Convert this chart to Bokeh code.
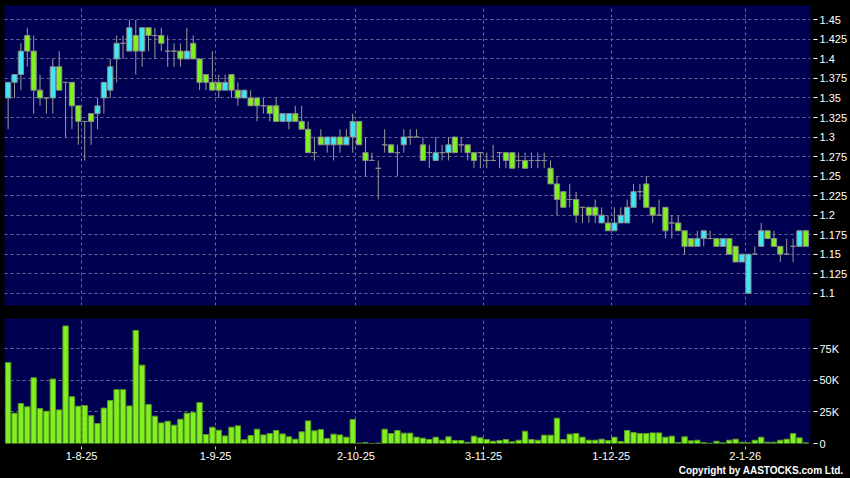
import pandas as pd
from bokeh.plotting import figure
from bokeh.layouts import column
from bokeh.models import FixedTicker, Title, ColumnDataSource
from bokeh.embed import file_html
from bokeh.resources import INLINE

# ---------------- data ----------------
holidays = ["2025-10-01", "2025-10-07", "2025-10-29", "2025-12-25", "2025-12-26", "2026-01-01"]
dates = [d for d in pd.bdate_range("2025-07-16", "2026-01-15") if d.strftime("%Y-%m-%d") not in holidays]

opens = [1.35, 1.37, 1.38, 1.43, 1.41, 1.36, 1.35, 1.35, 1.39, 1.37,
         1.37, 1.34, 1.32, 1.33, 1.33, 1.35, 1.36, 1.40, 1.42, 1.41,
         1.43, 1.41, 1.44, 1.43, 1.43, 1.41, 1.41, 1.41, 1.40, 1.42,
         1.40, 1.38, 1.37, 1.37, 1.36, 1.38, 1.36, 1.35, 1.35, 1.35,
         1.34, 1.34, 1.34, 1.32, 1.32, 1.33, 1.32, 1.31, 1.28, 1.30,
         1.29, 1.29, 1.30, 1.29, 1.30, 1.32, 1.28, 1.27, 1.26, 1.29,
         1.29, 1.28, 1.29, 1.30, 1.30, 1.29, 1.28, 1.27, 1.28, 1.28,
         1.30, 1.29, 1.29, 1.28, 1.28, 1.27, 1.27, 1.28, 1.28, 1.28,
         1.27, 1.27, 1.27, 1.27, 1.27, 1.26, 1.24, 1.23, 1.22, 1.22,
         1.21, 1.21, 1.21, 1.19, 1.19, 1.18, 1.19, 1.19, 1.21, 1.23,
         1.24, 1.21, 1.20, 1.21, 1.19, 1.19, 1.18, 1.17, 1.16, 1.17,
         1.17, 1.17, 1.16, 1.17, 1.16, 1.14, 1.10, 1.15, 1.16, 1.18,
         1.17, 1.16, 1.15, 1.16, 1.16, 1.18]
highs = [1.37, 1.38, 1.42, 1.44, 1.43, 1.38, 1.35, 1.40, 1.41, 1.37,
         1.37, 1.34, 1.32, 1.33, 1.35, 1.37, 1.40, 1.43, 1.43, 1.45,
         1.45, 1.44, 1.44, 1.44, 1.44, 1.43, 1.42, 1.42, 1.44, 1.43,
         1.40, 1.38, 1.41, 1.38, 1.38, 1.38, 1.37, 1.36, 1.36, 1.35,
         1.35, 1.34, 1.35, 1.33, 1.33, 1.34, 1.34, 1.32, 1.30, 1.31,
         1.30, 1.30, 1.31, 1.31, 1.33, 1.32, 1.30, 1.28, 1.27, 1.31,
         1.29, 1.29, 1.31, 1.31, 1.31, 1.30, 1.29, 1.30, 1.29, 1.30,
         1.30, 1.30, 1.29, 1.28, 1.28, 1.28, 1.29, 1.28, 1.28, 1.28,
         1.28, 1.28, 1.28, 1.28, 1.28, 1.27, 1.25, 1.23, 1.24, 1.23,
         1.21, 1.21, 1.22, 1.21, 1.20, 1.21, 1.21, 1.22, 1.24, 1.24,
         1.25, 1.21, 1.22, 1.21, 1.20, 1.20, 1.18, 1.17, 1.18, 1.18,
         1.18, 1.17, 1.17, 1.17, 1.16, 1.15, 1.15, 1.16, 1.19, 1.18,
         1.18, 1.16, 1.17, 1.17, 1.18, 1.18]
lows = [1.31, 1.35, 1.36, 1.39, 1.33, 1.34, 1.33, 1.33, 1.36, 1.30,
        1.31, 1.29, 1.27, 1.29, 1.31, 1.33, 1.35, 1.37, 1.40, 1.41,
        1.38, 1.39, 1.41, 1.40, 1.41, 1.39, 1.39, 1.39, 1.40, 1.40,
        1.36, 1.36, 1.36, 1.35, 1.36, 1.35, 1.34, 1.35, 1.34, 1.32,
        1.33, 1.32, 1.32, 1.32, 1.31, 1.32, 1.31, 1.28, 1.27, 1.29,
        1.28, 1.27, 1.28, 1.29, 1.28, 1.29, 1.25, 1.27, 1.22, 1.28,
        1.28, 1.25, 1.28, 1.29, 1.30, 1.27, 1.26, 1.27, 1.27, 1.27,
        1.28, 1.28, 1.27, 1.26, 1.26, 1.26, 1.27, 1.26, 1.26, 1.26,
        1.26, 1.26, 1.26, 1.26, 1.26, 1.24, 1.20, 1.21, 1.21, 1.19,
        1.19, 1.19, 1.19, 1.19, 1.18, 1.18, 1.19, 1.19, 1.21, 1.22,
        1.21, 1.19, 1.20, 1.17, 1.17, 1.18, 1.15, 1.16, 1.16, 1.16,
        1.17, 1.16, 1.16, 1.15, 1.14, 1.14, 1.10, 1.15, 1.16, 1.17,
        1.16, 1.14, 1.15, 1.14, 1.16, 1.16]
closes = [1.37, 1.38, 1.41, 1.41, 1.36, 1.35, 1.35, 1.39, 1.36, 1.37,
          1.34, 1.32, 1.32, 1.32, 1.34, 1.37, 1.39, 1.42, 1.42, 1.44,
          1.41, 1.44, 1.43, 1.43, 1.42, 1.41, 1.41, 1.40, 1.41, 1.40,
          1.37, 1.37, 1.36, 1.36, 1.37, 1.36, 1.35, 1.36, 1.34, 1.34,
          1.34, 1.33, 1.32, 1.33, 1.33, 1.32, 1.31, 1.28, 1.28, 1.29,
          1.30, 1.30, 1.29, 1.30, 1.32, 1.29, 1.27, 1.27, 1.26, 1.29,
          1.28, 1.28, 1.30, 1.30, 1.30, 1.27, 1.28, 1.28, 1.28, 1.29,
          1.28, 1.29, 1.28, 1.27, 1.28, 1.27, 1.27, 1.28, 1.27, 1.26,
          1.27, 1.26, 1.27, 1.27, 1.27, 1.24, 1.22, 1.21, 1.22, 1.20,
          1.21, 1.20, 1.20, 1.20, 1.18, 1.19, 1.20, 1.21, 1.23, 1.23,
          1.21, 1.20, 1.20, 1.18, 1.19, 1.18, 1.16, 1.16, 1.17, 1.18,
          1.17, 1.16, 1.17, 1.15, 1.14, 1.15, 1.15, 1.15, 1.18, 1.17,
          1.16, 1.15, 1.15, 1.16, 1.18, 1.16]
volumes_k = [64, 24, 31.6, 29, 52, 27.6, 25.5, 51, 26.6, 93,
             37, 29.5, 30, 22, 15.8, 28, 34, 42.6, 42.6, 29.7,
             89.5, 62, 30.8, 21.6, 16.3, 17.6, 14.5, 19.2, 24, 24.5,
             32.4, 7.1, 12.9, 10.5, 6, 12.9, 14, 2.9, 6.3, 11.3,
             6.8, 7.9, 10.3, 7.6, 5.3, 3.4, 9.2, 17.9, 10, 11,
             3.9, 7.4, 6.8, 5, 19, 0.3, 0.8, 0, 0.3, 11.3,
             7.9, 10.3, 8.2, 8.2, 5, 4.2, 3.2, 5, 2.6, 5.3,
             2.4, 2.4, 1, 5.8, 4.5, 3.2, 1.8, 2.4, 3.2, 1.3,
             2.6, 9.7, 3.2, 2.6, 6.6, 6.6, 20, 3.2, 7.4, 7.9,
             5, 2.6, 2.6, 3.4, 2.4, 5, 1.6, 10.3, 8.7, 7.9,
             7.9, 8.4, 8.4, 5, 5.8, 0.8, 5.3, 2.1, 2.6, 0.8,
             0.2, 1.8, 0.5, 2.6, 3.4, 1, 0.5, 2.6, 5, 1,
             1, 2.6, 3.4, 7.9, 4.5, 0.5]

tick_dates = ["2025-08-01", "2025-09-01", "2025-10-02", "2025-11-03", "2025-12-01", "2026-01-02"]
tick_labels = ["1-8-25", "1-9-25", "2-10-25", "3-11-25", "1-12-25", "2-1-26"]
price_ticks = [1.1, 1.125, 1.15, 1.175, 1.2, 1.225, 1.25, 1.275, 1.3, 1.325, 1.35, 1.375, 1.4, 1.425, 1.45]
price_labels = ["1.1", "1.125", "1.15", "1.175", "1.2", "1.225", "1.25", "1.275", "1.3", "1.325",
                "1.35", "1.375", "1.4", "1.425", "1.45"]
vol_ticks = [0, 25, 50, 75]
vol_labels = ["0", "25K", "50K", "75K"]

# ---------------- styling ----------------
NAVY = "#000050"
GRID = "#6a6a96"
UP = "#3ce8f4"
DOWN = "#80f020"
EDGE = "#8a8a8a"
FONT = "Liberation Sans"
W = 850
BLACK_BG = {"background-color": "black"}

idx = list(range(len(dates)))
date_str = [d.strftime("%Y-%m-%d") for d in dates]
tick_pos = [date_str.index(t) - 0.5 for t in tick_dates]

src = ColumnDataSource(dict(
    x=idx, o=opens, h=highs, l=lows, c=closes, v=volumes_k,
    top=[max(a, b) for a, b in zip(opens, closes)],
    bot=[min(a, b) for a, b in zip(opens, closes)],
    col=[UP if c > o else DOWN for o, c in zip(opens, closes)],
))

xr = (-0.57, len(dates) - 0.27)


def style_right_axis(ax, ticks, labels):
    ax.ticker = FixedTicker(ticks=ticks)
    ax.major_label_overrides = dict(zip(ticks, labels))
    ax.axis_line_color = None
    ax.major_tick_line_color = "white"
    ax.major_tick_in = -3
    ax.major_tick_out = 7
    ax.minor_tick_line_color = None
    ax.major_label_text_color = "white"
    ax.major_label_text_font = FONT
    ax.major_label_text_font_size = "11px"
    ax.major_label_standoff = 2


p = figure(width=W, height=312, x_range=xr, y_range=(1.0843, 1.4684),
           x_axis_location=None, y_axis_location="right",
           toolbar_location=None, output_backend="svg",
           min_border_left=4, min_border_right=38, min_border_top=5, min_border_bottom=7,
           background_fill_color=NAVY, border_fill_color="black", outline_line_color=None,
           styles=BLACK_BG)

style_right_axis(p.yaxis[0], price_ticks, price_labels)
p.ygrid.grid_line_color = GRID
p.ygrid.grid_line_dash = "3 3"
for g in p.xgrid:
    g.ticker = FixedTicker(ticks=tick_pos)
    g.grid_line_color = GRID
    g.grid_line_dash = "3 3"

p.segment(x0="x", y0="h", x1="x", y1="l", source=src, line_color="#9a9a9a", line_width=1)
p.vbar(x="x", top="top", bottom="bot", width=0.82, source=src,
       fill_color="col", line_color=EDGE, line_width=1)

v = figure(width=W, height=166, x_range=p.x_range, y_range=(0, 98.9),
           y_axis_location="right", toolbar_location=None, output_backend="svg",
           min_border_left=4, min_border_right=38, min_border_top=6, min_border_bottom=35,
           background_fill_color=NAVY, border_fill_color="black", outline_line_color=None,
           styles=BLACK_BG)

style_right_axis(v.yaxis[0], vol_ticks, vol_labels)

vx = v.xaxis[0]
vx.ticker = FixedTicker(ticks=tick_pos)
vx.major_label_overrides = dict(zip(tick_pos, tick_labels))
vx.axis_line_color = None
vx.major_tick_line_color = "#cccccc"
vx.major_tick_in = -3
vx.major_tick_out = 6
vx.minor_tick_line_color = None
vx.major_label_text_color = "white"
vx.major_label_text_font = FONT
vx.major_label_text_font_size = "11px"
vx.major_label_standoff = 2

v.xgrid.grid_line_color = GRID
v.xgrid.grid_line_dash = "3 3"
v.ygrid.grid_line_color = GRID
v.ygrid.grid_line_dash = "3 3"
v.ygrid.ticker = FixedTicker(ticks=vol_ticks[1:])

v.vbar(x="x", top="v", bottom=0, width=0.84, source=src,
       fill_color="#80f020", line_color="#5a9a22", line_width=1)

v.add_layout(Title(text="Copyright by AASTOCKS.com Ltd.", align="right", offset=-33,
                   text_color="white", text_font=FONT, text_font_size="10px",
                   text_font_style="bold", standoff=0), "below")

layout = column(p, v, spacing=0, styles=BLACK_BG)

open("out.html", "w").write(file_html(layout, INLINE))
